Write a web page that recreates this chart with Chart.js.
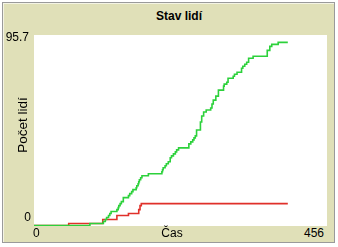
<!DOCTYPE html>
<html><head><meta charset="utf-8">
<script src="https://cdn.jsdelivr.net/npm/chart.js@4"></script>
<style>
html,body{margin:0;padding:0;background:#fff;width:338px;height:247px;overflow:hidden;font-family:"Liberation Sans",Arial,sans-serif;}
#frame{position:absolute;left:2px;top:2px;width:331px;height:239px;background:#E0E0B8;border:1px solid #9a9a9a;box-shadow:inset 1px 1px 0 #f4f4e4;}
#plot{position:absolute;left:34px;top:35px;width:293px;height:191px;background:#fff;}
.t{position:absolute;white-space:nowrap;color:#000;font-size:12px;line-height:14px;}
</style></head><body>
<div id="frame"></div>
<div id="plot"><canvas id="c"></canvas></div>
<div class="t" id="title" style="left:129px;width:100px;text-align:center;top:9px;font-weight:bold;font-size:12px;"></div>
<div class="t" id="ytop" style="left:0px;width:29px;text-align:right;top:30px;"></div>
<div class="t" id="ybot" style="left:0px;width:31px;text-align:right;top:210px;"></div>
<div class="t" id="xl" style="left:33px;top:226px;"></div>
<div class="t" id="xr" style="left:224px;width:100px;text-align:right;top:226px;"></div>
<div class="t" id="xt" style="left:122px;width:100px;text-align:center;top:226px;"></div>
<div class="t" id="yt" style="left:-27px;width:100px;text-align:center;top:117px;font-size:13.5px;line-height:16px;transform:rotate(-90deg);"></div>
<script>
const titleText = "Stav lidí";
const xTitle = "Čas";
const yTitle = "Počet lidí";
const xTicks = [0, 456];
const yTicks = [0, 95.7];
const seriesNames = ["zdraví", "mrtví"];
const greenT = [0,87,108,111,113,116,118,120,129,131,132,134,136,139,147,149,152,154,159,160,162,163,164,166,168,178,199,200,201,204,206,209,212,214,217,220,222,225,241,244,247,249,251,253,259,261,264,268,275,277,279,283,287,295,296,300,302,310,312,316,323,325,328,331,334,341,363,367,370,380,395];
const greenV = [0,1,2,3,4,5,6,7,8,9,10,11,12,14,15,16,17,18,19,20,21,22,23,24,25,26,27,28,29,30,31,32,34,35,36,37,38,39,41,42,43,44,45,48,52,55,57,58,59,61,63,65,68,70,71,72,74,75,76,77,79,80,81,82,84,85,88,90,91,92,92];
const redT = [0,54,107,129,147,163,165,167,395];
const redV = [0,1,3,5,6,8,10,11,11];
const colors = ["#2CD13B", "#E0302A"];

document.getElementById('title').textContent = titleText;
document.getElementById('xt').textContent = xTitle;
document.getElementById('yt').textContent = yTitle;
document.getElementById('xl').textContent = String(xTicks[0]);
document.getElementById('xr').textContent = String(xTicks[1]);
document.getElementById('ybot').textContent = String(yTicks[0]);
document.getElementById('ytop').textContent = String(yTicks[1]);

const pts = (t, v) => t.map((x, i) => ({x: x, y: v[i]}));
new Chart(document.getElementById('c'), {
  type: 'line',
  data: { datasets: [
    {label: seriesNames[0], data: pts(greenT, greenV), borderColor: colors[0], borderWidth: 1.6, pointRadius: 0, stepped: true, fill: false, clip: false},
    {label: seriesNames[1], data: pts(redT, redV), borderColor: colors[1], borderWidth: 1.6, pointRadius: 0, stepped: true, fill: false, clip: false}
  ]},
  options: {
    responsive: true, maintainAspectRatio: false, animation: false, devicePixelRatio: 1,
    layout: {padding: {left: 0, right: 0, top: 0, bottom: 0.5}},
    plugins: {legend: {display: false}, tooltip: {enabled: false}, title: {display: false}},
    scales: {
      x: {type: 'linear', min: xTicks[0], max: xTicks[1], display: false},
      y: {type: 'linear', min: yTicks[0], max: yTicks[1], display: false}
    }
  }
});
</script>
</body></html>
